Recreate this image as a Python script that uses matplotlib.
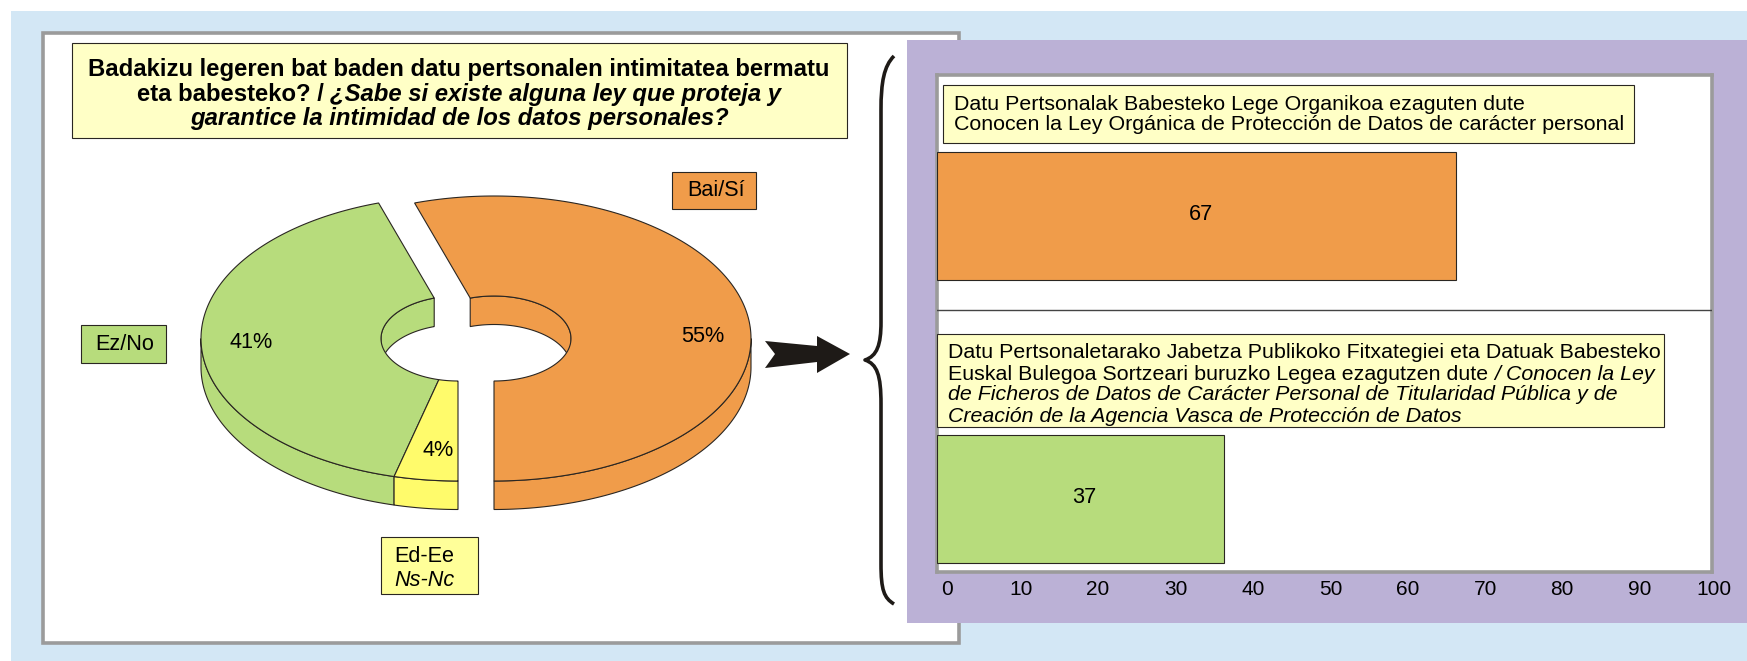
"""
Donut + bar figure: awareness of personal data protection laws.
"""
import numpy as np
import matplotlib
matplotlib.use("Agg")
import matplotlib.pyplot as plt
from matplotlib.patches import Rectangle, Polygon, PathPatch
from matplotlib.path import Path
from matplotlib.transforms import ScaledTranslation

plt.rcParams['font.family'] = ['Liberation Sans', 'DejaVu Sans']

# data
pie_labels = ['55%', '41%', '4%']
pie_values = [55, 41, 4]
bar_values = [67, 37]
bar_positions = [1, 0]
tick_values = [0, 10, 20, 30, 40, 50, 60, 70, 80, 90, 100]

ORANGE = '#F09C4A'
GREEN = '#B7DC7C'
YELLOW = '#FFFB6B'
CREAM = '#FFFFC6'
EDGE = '#2a2622'
W, H = 1747, 661
DPI = 100

fig = plt.figure(figsize=(W / DPI, H / DPI), dpi=DPI, facecolor='white')

# pixel canvas for panels
bg = fig.add_axes([0, 0, 1, 1], zorder=1)
bg.set_xlim(0, W)
bg.set_ylim(H, 0)
bg.axis('off')


def box(ax, x0, y0, x1, y1, fc, ec=EDGE, lw=0.8, z=2):
    ax.add_patch(Rectangle((x0, y0), x1 - x0, y1 - y0, fc=fc, ec=ec, lw=lw, zorder=z))


box(bg, 11, 11, W + 5, H + 5, '#D3E7F5', ec='none', z=0)
box(bg, 43, 33, 959.5, 643, 'white', ec='#9b9b9b', lw=2.6, z=1)
box(bg, 907, 40, W + 5, 623, '#BBB1D6', ec='none', z=1.5)


def mixed_line(ax, parts, x, y, size, weight='normal', center=False, z=5):
    # parts is a list of (text, style), drawn one after the other on one baseline
    renderer = fig.canvas.get_renderer()
    widths = []
    for s, style in parts:
        t = ax.text(0, 0, s, fontsize=size, fontweight=weight, fontstyle=style)
        bb = t.get_window_extent(renderer)
        widths.append(bb.width)
        t.remove()
    if center:
        x = x - sum(widths) / 2
    for (s, style), w in zip(parts, widths):
        ax.text(x, y, s, fontsize=size, fontweight=weight, fontstyle=style,
                va='center_baseline', ha='left', color='black', zorder=z)
        x += w


# title
box(bg, 72, 43, 847, 138, CREAM)
mixed_line(bg, [('Badakizu legeren bat baden datu pertsonalen intimitatea bermatu', 'normal')],
           459, 67, 17.2, weight='bold', center=True)
mixed_line(bg, [('eta babesteko? / ', 'normal'), ('¿Sabe si existe alguna ley que proteja y', 'italic')],
           459, 92, 17.2, weight='bold', center=True)
mixed_line(bg, [('garantice la intimidad de los datos personales?', 'italic')],
           459, 116, 17.2, weight='bold', center=True)

# donut, elliptical projection
RX, RY = 257, 142.5
IRX, IRY = 77, 42.5
CY = 338.5
DEPTH = 28.5
centres = [494, 458, 458]
colours = [ORANGE, GREEN, YELLOW]


def arc(cx, rx, ry, t0, t1, dy=0):
    t = np.radians(np.linspace(t0, t1, 200))
    return np.column_stack([cx + rx * np.cos(t), CY + dy - ry * np.sin(t)])


# slices start at the bottom of the ring and run counter-clockwise
spans = []
start = -90.0
for v in pie_values:
    spans.append((start, start + v * 3.6))
    start += v * 3.6

for (t0, t1), cx, col in zip(spans, centres, colours):
    # outer wall, front half only
    for a, b in ((max(t0, 180), min(t1, 360)), (max(t0, -180), min(t1, 0))):
        if b > a:
            top = arc(cx, RX, RY, a, b)
            low = arc(cx, RX, RY, a, b, DEPTH)
            bg.add_patch(Polygon(np.vstack([top, low[::-1]]), fc=col, ec=EDGE, lw=0.8, zorder=3))
    # inner wall, back half only
    a, b = max(t0, 0), min(t1, 180)
    if b > a:
        top = arc(cx, IRX, IRY, a, b)
        low = arc(cx, IRX, IRY, a, b, DEPTH)
        bg.add_patch(Polygon(np.vstack([top, low[::-1]]), fc=col, ec=EDGE, lw=0.8, zorder=3))

for (t0, t1), cx, col in zip(spans, centres, colours):
    face = np.vstack([arc(cx, RX, RY, t0, t1), arc(cx, IRX, IRY, t1, t0)])
    bg.add_patch(Polygon(face, fc=col, ec=EDGE, lw=0.8, zorder=4))

bg.text(703, 337, pie_labels[0], fontsize=15.6, ha='center', va='center', zorder=5)
bg.text(251, 343, pie_labels[1], fontsize=15.6, ha='center', va='center', zorder=5)
bg.text(438, 450, pie_labels[2], fontsize=15.6, ha='center', va='center', zorder=5)

# legend tags
box(bg, 672, 172, 756, 209, ORANGE)
bg.text(716, 191, 'Bai/Sí', fontsize=15.6, ha='center', va='center', zorder=5)
box(bg, 81, 325, 166, 363, GREEN)
bg.text(125, 345, 'Ez/No', fontsize=15.6, ha='center', va='center', zorder=5)
box(bg, 381, 537, 478, 594, '#FFFF99')
bg.text(394, 556, 'Ed-Ee', fontsize=15.6, ha='left', va='center', zorder=5)
bg.text(394, 580, 'Ns-Nc', fontsize=15.6, ha='left', va='center', style='italic', zorder=5)

# arrow
arrow_xy = [(765, 341), (817, 346), (817, 336), (850, 354), (817, 373),
            (817, 362), (765, 368), (775, 354)]
bg.add_patch(Polygon(arrow_xy, fc='#1E1A17', ec='none', zorder=5))

# curly brace
brace_path = Path(
    [(894, 56), (884, 66), (881, 82), (881, 110),
     (881, 322),
     (881, 345), (877, 356), (865, 360),
     (877, 364), (881, 375), (881, 404),
     (881, 564),
     (881, 590), (884, 598), (894, 604)],
    [Path.MOVETO, Path.CURVE4, Path.CURVE4, Path.CURVE4,
     Path.LINETO,
     Path.CURVE4, Path.CURVE4, Path.CURVE4,
     Path.CURVE4, Path.CURVE4, Path.CURVE4,
     Path.LINETO,
     Path.CURVE4, Path.CURVE4, Path.CURVE4])
bg.add_patch(PathPatch(brace_path, fc='none', ec='#1E1A17', lw=2.6, joinstyle='round', zorder=5))

# bar chart on real axes
x0, x1, y0, y1 = 937, 1712, 75, 572
ax = fig.add_axes([x0 / W, 1 - y1 / H, (x1 - x0) / W, (y1 - y0) / H], zorder=2)
ax.set_facecolor('white')
ax.set_xlim(0, 100)
ax.set_ylim(-0.26, 1.499)
ax.barh(bar_positions, bar_values, height=0.453, color=[ORANGE, GREEN],
        edgecolor=EDGE, linewidth=0.8, zorder=3)
ax.axhline(0.668, color='#444444', lw=1.0, zorder=3)
for p, v in zip(bar_positions, bar_values):
    ax.annotate(str(v), (v / 2, p), xytext=(3, 1), textcoords='offset points',
                ha='center', va='center', fontsize=15.6, zorder=4)
ax.set_yticks([])
ax.set_xticks(tick_values)
ax.tick_params(axis='x', length=0, pad=6, labelsize=15)
for s in ax.spines.values():
    s.set_color('#9b9b9b')
    s.set_linewidth(2.6)
tick_shift = [10, 6.5, 6, 6, 6, 6, 6, 6, 5, 5, 2]
for lbl, dx in zip(ax.get_xticklabels(), tick_shift):
    lbl.set_transform(lbl.get_transform() + ScaledTranslation(dx / DPI, 0, fig.dpi_scale_trans))

# notes above the bars
ov = fig.add_axes([0, 0, 1, 1], zorder=3)
ov.set_xlim(0, W)
ov.set_ylim(H, 0)
ov.axis('off')
box(ov, 943, 85, 1634, 143, CREAM)
mixed_line(ov, [('Datu Pertsonalak Babesteko Lege Organikoa ezaguten dute', 'normal')], 954, 102, 15.4)
mixed_line(ov, [('Conocen la Ley Orgánica de Protección de Datos de carácter personal', 'normal')], 954, 123, 15.4)
box(ov, 937, 334, 1664, 427, CREAM)
mixed_line(ov, [('Datu Pertsonaletarako Jabetza Publikoko Fitxategiei eta Datuak Babesteko', 'normal')], 948, 350, 15.4)
mixed_line(ov, [('Euskal Bulegoa Sortzeari buruzko Legea ezagutzen dute ', 'normal'), ('/ Conocen la Ley', 'italic')], 948, 372, 15.4)
mixed_line(ov, [('de Ficheros de Datos de Carácter Personal de Titularidad Pública y de', 'italic')], 948, 393, 15.4)
mixed_line(ov, [('Creación de la Agencia Vasca de Protección de Datos', 'italic')], 948, 414, 15.4)

fig.savefig('out.png', dpi=DPI)
